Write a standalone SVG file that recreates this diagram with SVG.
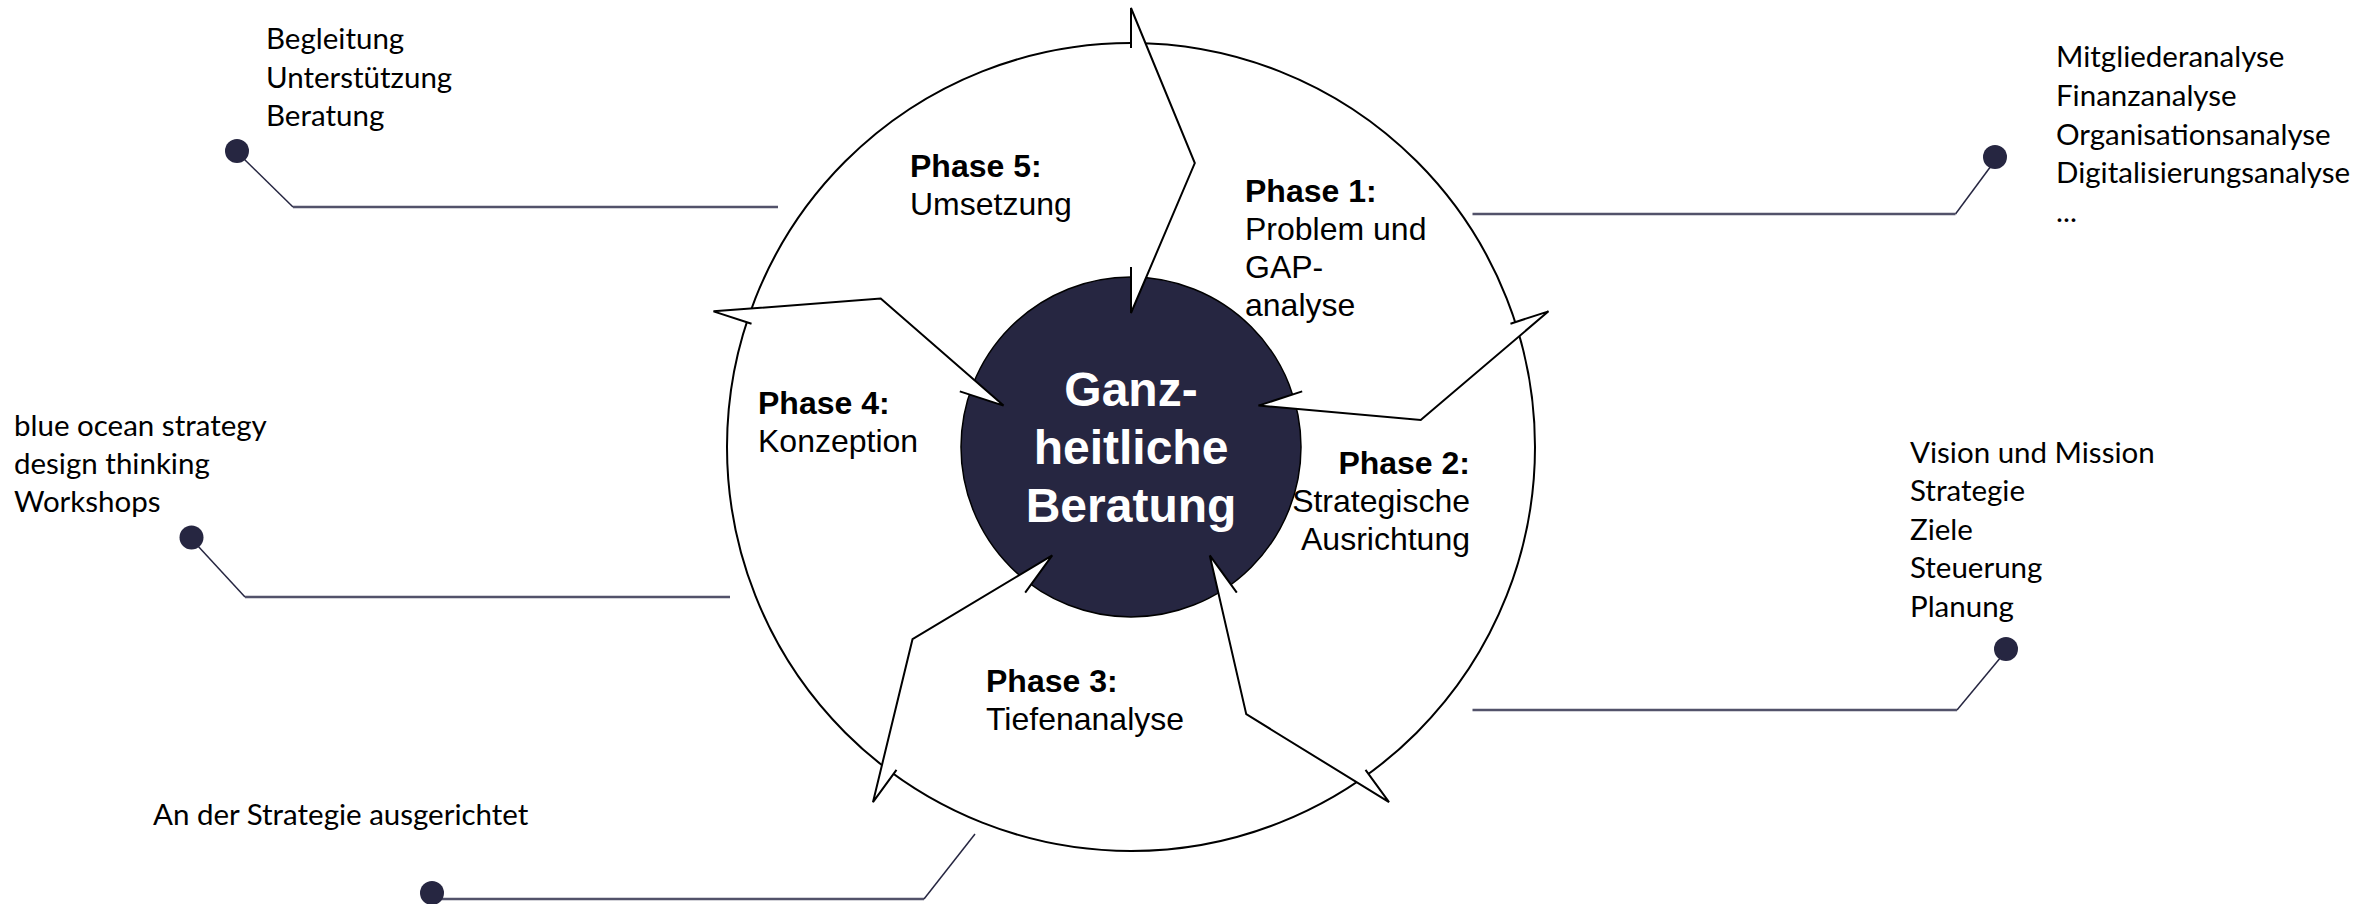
<svg xmlns="http://www.w3.org/2000/svg" xmlns:xlink="http://www.w3.org/1999/xlink" width="2377" height="904" viewBox="0 0 2377 904">
<style>
.side{font-family:Lato,"Open Sans","Liberation Sans",sans-serif;font-size:29.5px;fill:#000}
.ph{font-family:"Liberation Sans",Arial,sans-serif;font-size:32px;fill:#000}
.b{font-weight:bold}
.ctr{font-family:"Liberation Sans",Arial,sans-serif;font-size:48px;font-weight:bold;fill:#fff;text-anchor:middle}
.hl{stroke:#52526a;stroke-width:2.5;fill:none}
.sl{stroke:#262641;stroke-width:1.5;fill:none}
.dot{fill:#262641}
.ahfill{fill:#fff;stroke:none}
.ahline{fill:none;stroke:#000;stroke-width:2;stroke-linejoin:miter}
</style>
<defs>
<g id="head">
<polygon class="ahfill" points="1131,267 1131,48 1131,8 1194.8,163.1 1131,313"/>
<polyline class="ahline" points="1131,48 1131,8 1194.8,163.1 1131,313 1131,267"/>
</g>
</defs>
<rect width="2377" height="904" fill="#fff"/>
<g id="cycle">
<circle cx="1131" cy="447" r="404" fill="#fff" stroke="#000" stroke-width="2"/>
<circle cx="1131" cy="447" r="170" fill="#262641" stroke="#000" stroke-width="1.5"/>
<use xlink:href="#head"/>
<use xlink:href="#head" transform="rotate(72 1131 447)"/>
<use xlink:href="#head" transform="rotate(144 1131 447)"/>
<use xlink:href="#head" transform="rotate(216 1131 447)"/>
<use xlink:href="#head" transform="rotate(288 1131 447)"/>
</g>
<g id="center">
<text class="ctr" x="1131" y="406">Ganz-</text>
<text class="ctr" x="1131" y="464">heitliche</text>
<text class="ctr" x="1131" y="522">Beratung</text>
</g>
<g id="phase1">
<text class="ph b" x="1245" y="202">Phase 1:</text>
<text class="ph" x="1245" y="240">Problem und</text>
<text class="ph" x="1245" y="278">GAP-</text>
<text class="ph" x="1245" y="316">analyse</text>
</g>
<g id="phase2">
<text class="ph b" x="1470" y="474" text-anchor="end">Phase 2:</text>
<text class="ph" x="1470" y="512" text-anchor="end">Strategische</text>
<text class="ph" x="1470" y="550" text-anchor="end">Ausrichtung</text>
</g>
<g id="phase3">
<text class="ph b" x="986" y="692">Phase 3:</text>
<text class="ph" x="986" y="730">Tiefenanalyse</text>
</g>
<g id="phase4">
<text class="ph b" x="758" y="414">Phase 4:</text>
<text class="ph" x="758" y="452">Konzeption</text>
</g>
<g id="phase5">
<text class="ph b" x="910" y="177">Phase 5:</text>
<text class="ph" x="910" y="215">Umsetzung</text>
</g>
<g id="note-umsetzung">
<text class="side" x="266" y="49">Begleitung</text>
<text class="side" x="266" y="87.5">Unterstützung</text>
<text class="side" x="266" y="126">Beratung</text>
</g>
<g id="note-analyse">
<text class="side" x="2056" y="67">Mitgliederanalyse</text>
<text class="side" x="2056" y="106">Finanzanalyse</text>
<text class="side" x="2056" y="145">Organisationsanalyse</text>
<text class="side" x="2056" y="183">Digitalisierungsanalyse</text>
<text class="side" x="2056" y="222">...</text>
</g>
<g id="note-strategie">
<text class="side" x="1910" y="463">Vision und Mission</text>
<text class="side" x="1910" y="501">Strategie</text>
<text class="side" x="1910" y="539.5">Ziele</text>
<text class="side" x="1910" y="578">Steuerung</text>
<text class="side" x="1910" y="616.5">Planung</text>
</g>
<g id="note-konzeption">
<text class="side" x="14" y="436">blue ocean strategy</text>
<text class="side" x="14" y="474">design thinking</text>
<text class="side" x="14" y="512">Workshops</text>
</g>
<g id="note-tiefenanalyse">
<text class="side" x="153" y="825">An der Strategie ausgerichtet</text>
</g>
<g id="connectors">
<line class="sl" x1="243" y1="158" x2="293" y2="207"/>
<line class="hl" x1="293" y1="207" x2="778" y2="207"/>
<circle class="dot" cx="237" cy="151" r="12"/>
<line class="sl" x1="197" y1="545" x2="245" y2="597"/>
<line class="hl" x1="245" y1="597" x2="730" y2="597"/>
<circle class="dot" cx="191.5" cy="537.5" r="12"/>
<line class="hl" x1="440" y1="899" x2="924" y2="899"/>
<line class="sl" x1="924" y1="899" x2="975" y2="834"/>
<circle class="dot" cx="432" cy="893" r="12"/>
<line class="sl" x1="1991" y1="166" x2="1955.5" y2="214"/>
<line class="hl" x1="1955.5" y1="214" x2="1472.5" y2="214"/>
<circle class="dot" cx="1995" cy="157" r="12"/>
<line class="sl" x1="2001" y1="657" x2="1957" y2="710"/>
<line class="hl" x1="1957" y1="710" x2="1472.5" y2="710"/>
<circle class="dot" cx="2006" cy="649" r="12"/>
</g>
</svg>
